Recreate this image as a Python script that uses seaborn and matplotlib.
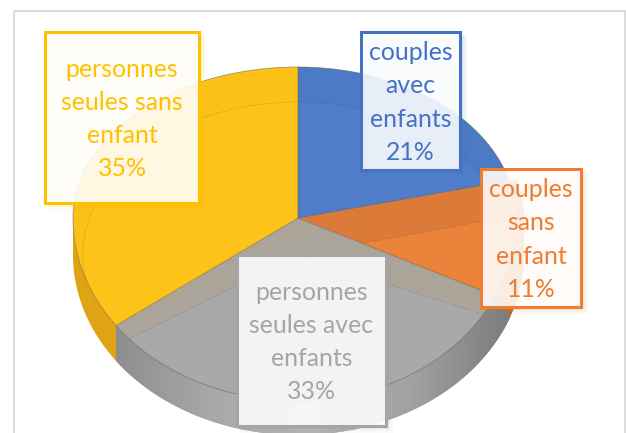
import numpy as np
import matplotlib
matplotlib.use('Agg')
import matplotlib.pyplot as plt
from matplotlib.patches import Rectangle
import seaborn as sns

#values, clockwise from 12 o'clock
categories = ['couples\navec\nenfants', 'couples\nsans\nenfant',
              'personnes\nseules avec\nenfants', 'personnes\nseules sans\nenfant']
shares = [21, 11, 33, 35]

label_colors = ['#4472C4', '#ED7D31', '#A5A5A5', '#FFC000']
band_colors = ['#4C7AC5', '#DB7A39', '#ABA498', '#FBC117']
face_colors = ['#507DC7', '#EB833A', '#A9A9AA', '#FDC318']
wall_colors = ['#3F68AE', '#BF651F', '#999999', '#DFA313']

#left, top, right, bottom of each label box in pixels
box_edges = [(361, 32, 460, 170), (481, 169, 581, 307),
             (237, 255, 386, 426), (45, 32, 199, 203)]

sns.set_theme(style='white')
plt.rcParams['font.family'] = ['Lato', 'DejaVu Sans']

fig, ax = plt.subplots(figsize=(6.26, 4.33), dpi=100)
ax.set_position([0, 0, 1, 1])
ax.axis('off')

#chart frame
ax.add_patch(Rectangle((14, 10.5), 611, 430, fill=False, ec='#DCDCDC', lw=1.5, zorder=1))


def arc_points(start, end, cy_up, cy_low, rx_left, rx_right, ry_up, ry_low):
    theta = np.radians(np.linspace(start, end, 120)) * 3.6
    s, c = np.sin(theta), np.cos(theta)
    x = 298 + s * np.where(s >= 0, rx_right, rx_left)
    y = np.where(c >= 0, cy_up - c * ry_up, cy_low - c * ry_low)
    return x, y


stops = np.r_[0, np.cumsum(shares)]

#side wall is the strip between the outer arc and the top face arc
#no wall behind the blue slice, grey wall wraps a bit further round than its slice
for i in [1, 3, 2]:
    start = stops[i] - 1.5 if i == 2 else stops[i]
    xo, yo = arc_points(start, stops[i + 1], 218, 255, 225, 226, 151, 180)
    xa, ya = arc_points(stops[i], stops[i + 1], 218, 218, 225, 218, 151, 183)
    poly = ax.fill(np.r_[xo, xa[::-1]], np.r_[yo, ya[::-1]], color=wall_colors[i], lw=0, zorder=2)[0]
    if i == 2:
        #soft left to right shading on the grey wall
        cmap = sns.blend_palette(['#8C8C8C', '#A8A8A8', '#B4B4B4', '#A2A2A2', '#7C7C7C'], as_cmap=True)
        img = ax.imshow(np.linspace(0, 1, 256)[None, :], extent=(110, 510, 440, 250), cmap=cmap,
                        aspect='auto', zorder=2.1)
        img.set_clip_path(poly)

#top face: a band colour, then the lower copy shifted down and clipped to its own slice
for i in range(len(shares)):
    xa, ya = arc_points(stops[i], stops[i + 1], 218, 218, 225, 218, 151, 183)
    x, y = np.r_[298, xa], np.r_[218, ya]
    top = ax.fill(x, y, color=band_colors[i], lw=0, zorder=3)[0]
    xb, yb = arc_points(stops[i], stops[i + 1], 255, 255, 215, 215, 153, 147)
    inner = ax.fill(np.r_[298, xb], np.r_[255, yb], fc=face_colors[i], ec=(0.2, 0.2, 0.2, 0.15),
                    lw=0.5, zorder=4)[0]
    inner.set_clip_path(top)
    #dark seam along the slice edges
    ax.plot(x, y, color='#5A5A5A', lw=0.6, alpha=0.55, zorder=5)

#label boxes
for i in range(len(shares)):
    left, upper, right, lower = box_edges[i]
    for grow, alpha in zip([7, 5, 3], [0.05, 0.07, 0.09]):
        ax.add_patch(Rectangle((left + 3, upper + 3), right - left + grow - 3, lower - upper + grow - 3,
                               fc=label_colors[i], ec='none', alpha=alpha, zorder=6))
    ax.add_patch(Rectangle((left, upper), right - left, lower - upper, fc=(1, 1, 1, 0.88),
                           ec=label_colors[i], lw=2.2, zorder=7))
    ax.text((left + right) / 2, (upper + lower) / 2 + 1.5, f'{categories[i]}\n{shares[i]}%',
            color=label_colors[i], fontsize=17.9, linespacing=1.53, ha='center', va='center',
            zorder=8)

ax.set_xlim(0, 626)
ax.set_ylim(433, 0)
fig.savefig('out.png', dpi=100)
